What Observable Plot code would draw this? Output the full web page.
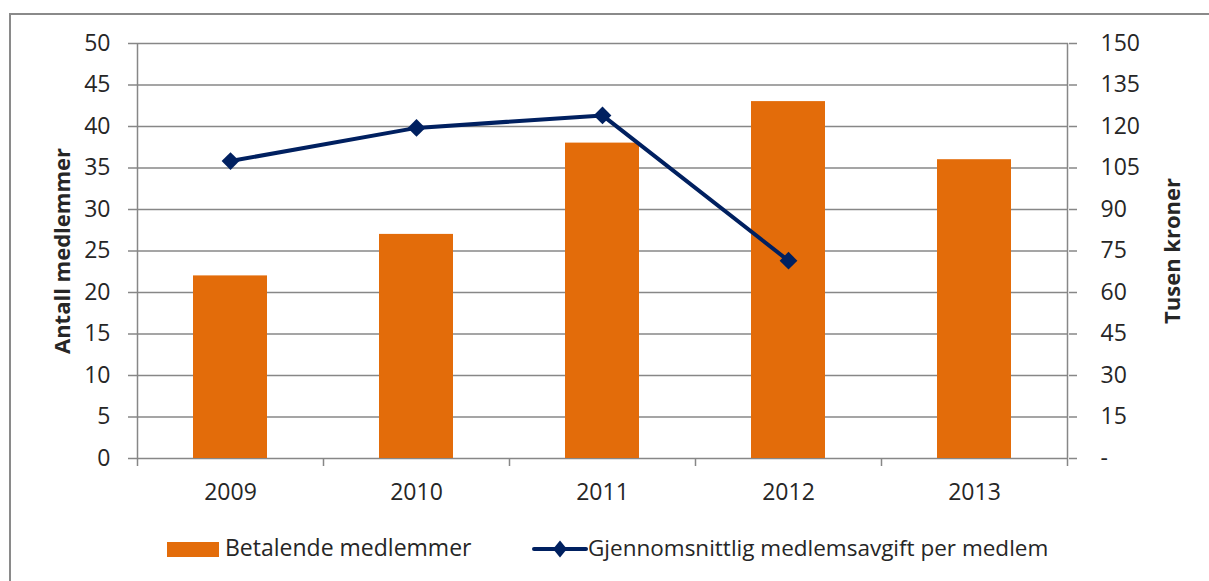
<!DOCTYPE html>
<html>
<head>
<meta charset="utf-8">
<script src="https://cdn.jsdelivr.net/npm/d3@7"></script>
<script src="https://cdn.jsdelivr.net/npm/@observablehq/plot@0.6"></script>
<style>
  html, body { margin: 0; padding: 0; background: #fff; }
  #wrap { position: relative; width: 1209px; height: 581px; overflow: hidden; font-family: "Open Sans", sans-serif; color: #262626; }
  #frame { position: absolute; left: 9px; top: 13px; width: 1210px; height: 600px; border-top: 2px solid #8a8a8a; border-left: 2px solid #8a8a8a; }
  #chart { position: absolute; left: 0; top: 0; }
  .leg { position: absolute; font-size: 23px; line-height: 23px; white-space: nowrap; }
</style>
</head>
<body>
<div id="wrap">
  <div id="frame"></div>
  <div id="chart"></div>
  <div class="leg" style="left:167px; top:541.5px; width:52px; height:15px; background:#E36C0A;"></div>
  <div class="leg" style="left:225px; top:536px;">Betalende medlemmer</div>
  <svg class="leg" style="left:532px; top:540px;" width="56" height="18">
    <line x1="2" x2="54" y1="9" y2="9" stroke="#002060" stroke-width="4" stroke-linecap="round"></line>
    <polygon points="28,0.5 35,9 28,17.5 21,9" fill="#002060"></polygon>
  </svg>
  <div class="leg" style="left:588px; top:536px; font-size:22.5px;">Gjennomsnittlig medlemsavgift per medlem</div>
</div>
<script>
const years = ["2009", "2010", "2011", "2012", "2013"];
const members = [22, 27, 38, 43, 36];              // Betalende medlemmer (left axis)
const avgFee = [107.5, 119.5, 124, 71.5, null];     // Tusen kroner (right axis)
const leftTicks = [0, 5, 10, 15, 20, 25, 30, 35, 40, 45, 50];
const rightTicks = [0, 15, 30, 45, 60, 75, 90, 105, 120, 135, 150];

const leftMax = 50, rightMax = 150;
const ratio = rightMax / leftMax;

const barData = years.map((year, i) => ({year, members: members[i]}));
const lineData = years.map((year, i) => ({year, fee: avgFee[i]})).filter(d => d.fee != null);

const grid = "#878787";
const navy = "#002060";
const orange = "#E36C0A";

function boundaryTicks(index, scales) {
  const x = scales.x, y = scales.y;
  const bw = typeof x.bandwidth === "function" ? x.bandwidth() : 0;
  const step = x(years[1]) - x(years[0]);
  const y0 = y(0);
  const g = d3.create("svg:g").attr("stroke", grid).attr("stroke-width", 1.5);
  for (let i = 0; i <= years.length; i++) {
    const c = i < years.length ? x(years[i]) : x(years[years.length - 1]) + step;
    const xi = Math.round(c + bw / 2 - step / 2) + 0.5;
    const edge = i === 0 || i === years.length;
    g.append("line")
      .attr("x1", xi).attr("x2", xi)
      .attr("y1", edge ? y(leftMax) : y0)
      .attr("y2", y0 + 8);
  }
  return g.node();
}

const chart = Plot.plot({
  width: 1209,
  height: 520,
  marginTop: 43,
  marginBottom: 62,
  marginLeft: 136,
  marginRight: 141,
  style: {fontFamily: "Open Sans, sans-serif", fontSize: "23px", color: "#262626", background: "transparent", overflow: "visible"},
  x: {domain: years, paddingInner: 0.6, paddingOuter: 0.3},
  y: {domain: [0, leftMax]},
  marks: [
    Plot.ruleY(leftTicks, {stroke: grid, strokeWidth: 1.5}),
    Plot.barY(barData, {x: "year", y: "members", fill: orange}),
    boundaryTicks,
    Plot.axisY({ticks: leftTicks, anchor: "left", tickSize: 8, tickPadding: 18, stroke: grid, strokeWidth: 1.5, fill: "#262626", label: null, fontSize: 23}),
    Plot.axisY(rightTicks.map(v => v / ratio), {anchor: "right", tickSize: 8, tickPadding: 24, stroke: grid, strokeWidth: 1.5, fill: "#262626", label: null, fontSize: 23,
      tickFormat: d => { const v = Math.round(d * ratio); return v === 0 ? "-" : String(v); }}),
    Plot.axisX({tickSize: 0, tickPadding: 25, fill: "#262626", label: null, fontSize: 23}),
    Plot.line(lineData, {x: "year", y: d => d.fee / ratio, stroke: navy, strokeWidth: 4}),
    Plot.dot(lineData, {x: "year", y: d => d.fee / ratio, symbol: "diamond2", r: 8, fill: navy, stroke: null}),
    Plot.text(["Antall medlemmer"], {frameAnchor: "left", textAnchor: "middle", lineAnchor: "middle", dx: -74, rotate: -90, fontWeight: "bold", fontSize: 22, fill: "#262626"}),
    Plot.text(["Tusen kroner"], {frameAnchor: "right", textAnchor: "middle", lineAnchor: "middle", dx: 104, rotate: -90, fontWeight: "bold", fontSize: 22, fill: "#262626"})
  ]
});
document.getElementById("chart").appendChild(chart);
</script>
</body>
</html>
